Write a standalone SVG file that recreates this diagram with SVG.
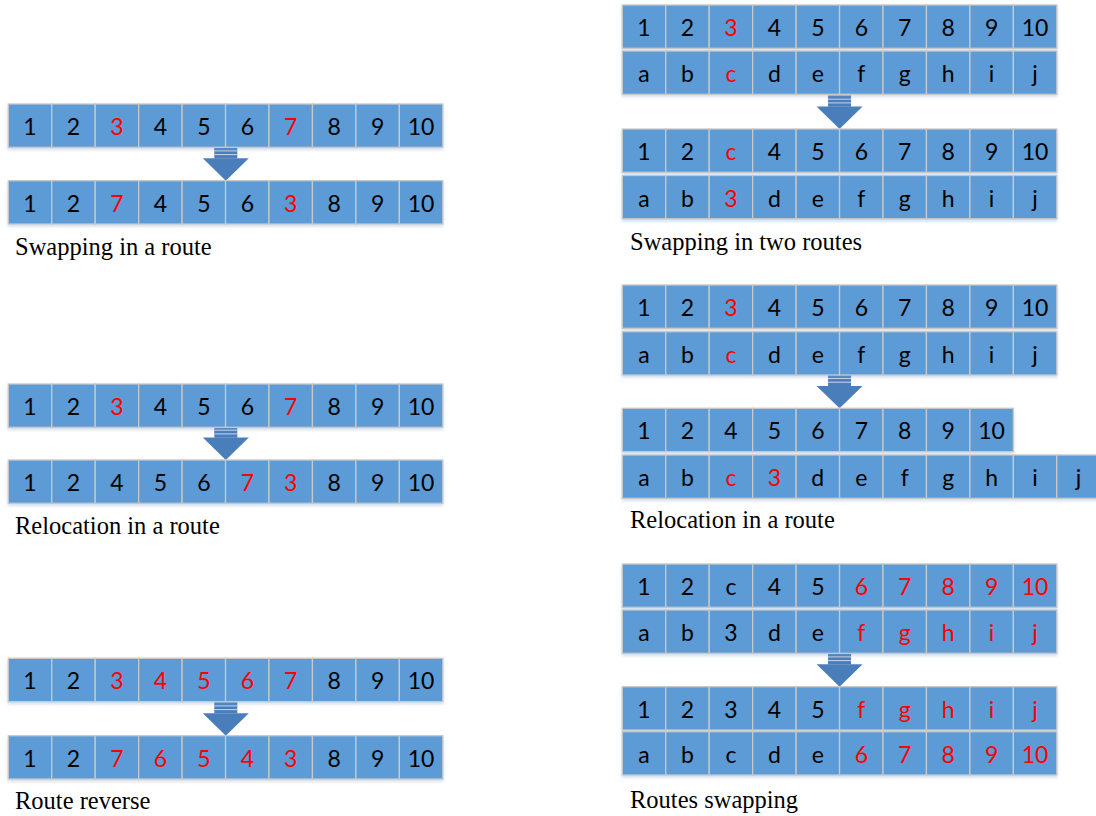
<svg xmlns="http://www.w3.org/2000/svg" xmlns:xlink="http://www.w3.org/1999/xlink" width="1096" height="816" viewBox="0 0 1096 816">
<style>
.c{fill:#5B9BD5;stroke:#C8C8C8;stroke-width:1.3}
.t text{font-family:Lato,"Open Sans","Liberation Sans",sans-serif;font-size:23px;text-anchor:middle;fill:#000}
.t text.r{fill:#FF0000}
text.lbl{font-family:"Liberation Serif","Times New Roman",serif;font-size:24.5px;fill:#000}
.ar{fill:#4A7EBB}
.st{stroke:#C9D8EC;stroke-width:1}
</style>
<defs>
<filter id="sh" x="-5%" y="-20%" width="110%" height="150%">
<feDropShadow dx="0" dy="2" stdDeviation="1.5" flood-color="#7F9FC8" flood-opacity="0.35"/>
</filter>
<g id="row9">
<rect class="c" x="0" y="0" width="43.45" height="43.3"/>
<rect class="c" x="43.45" y="0" width="43.45" height="43.3"/>
<rect class="c" x="86.9" y="0" width="43.45" height="43.3"/>
<rect class="c" x="130.35" y="0" width="43.45" height="43.3"/>
<rect class="c" x="173.8" y="0" width="43.45" height="43.3"/>
<rect class="c" x="217.25" y="0" width="43.45" height="43.3"/>
<rect class="c" x="260.7" y="0" width="43.45" height="43.3"/>
<rect class="c" x="304.15" y="0" width="43.45" height="43.3"/>
<rect class="c" x="347.6" y="0" width="43.45" height="43.3"/>
</g>
<g id="row10">
<use xlink:href="#row9"/>
<rect class="c" x="391.05" y="0" width="43.45" height="43.3"/>
</g>
<g id="row11">
<use xlink:href="#row10"/>
<rect class="c" x="434.5" y="0" width="43.45" height="43.3"/>
</g>
<g id="arrow">
<rect class="ar" x="-11.5" y="-33.5" width="23" height="11.2"/>
<line class="st" x1="-11.5" y1="-29.8" x2="11.5" y2="-29.8"/>
<line class="st" x1="-11.5" y1="-26.1" x2="11.5" y2="-26.1"/>
<path class="ar" d="M-23,-22.4 L23,-22.4 L0,0 Z"/>
</g>
</defs>

<g id="connectors">
<use xlink:href="#arrow" x="225.8" y="180.7"/>
<use xlink:href="#arrow" x="225.8" y="460"/>
<use xlink:href="#arrow" x="225.8" y="735.7"/>
<use xlink:href="#arrow" x="839.55" y="129"/>
<use xlink:href="#arrow" x="839.55" y="408.3"/>
<use xlink:href="#arrow" x="839.55" y="686.7"/>
</g>

<!-- Left section 1 -->
<g id="swap-route">
<g id="L1a" class="t" transform="translate(8.3,104)"><use xlink:href="#row10" filter="url(#sh)"/>
<text x="21.7" y="31">1</text><text x="65.2" y="31">2</text><text x="108.6" y="31" class="r">3</text><text x="152.1" y="31">4</text><text x="195.5" y="31">5</text><text x="239" y="31">6</text><text x="282.4" y="31" class="r">7</text><text x="325.9" y="31">8</text><text x="369.3" y="31">9</text><text x="412.8" y="31">10</text></g>
<g id="L1b" class="t" transform="translate(8.3,180.7)"><use xlink:href="#row10" filter="url(#sh)"/>
<text x="21.7" y="31">1</text><text x="65.2" y="31">2</text><text x="108.6" y="31" class="r">7</text><text x="152.1" y="31">4</text><text x="195.5" y="31">5</text><text x="239" y="31">6</text><text x="282.4" y="31" class="r">3</text><text x="325.9" y="31">8</text><text x="369.3" y="31">9</text><text x="412.8" y="31">10</text></g>
<text class="lbl" x="15" y="255" font-family="Liberation Serif, serif">Swapping in a route</text>
</g>

<!-- Left section 2 -->
<g id="reloc-route">
<g id="L2a" class="t" transform="translate(8.3,384)"><use xlink:href="#row10" filter="url(#sh)"/>
<text x="21.7" y="31">1</text><text x="65.2" y="31">2</text><text x="108.6" y="31" class="r">3</text><text x="152.1" y="31">4</text><text x="195.5" y="31">5</text><text x="239" y="31">6</text><text x="282.4" y="31" class="r">7</text><text x="325.9" y="31">8</text><text x="369.3" y="31">9</text><text x="412.8" y="31">10</text></g>
<g id="L2b" class="t" transform="translate(8.3,460)"><use xlink:href="#row10" filter="url(#sh)"/>
<text x="21.7" y="31">1</text><text x="65.2" y="31">2</text><text x="108.6" y="31">4</text><text x="152.1" y="31">5</text><text x="195.5" y="31">6</text><text x="239" y="31" class="r">7</text><text x="282.4" y="31" class="r">3</text><text x="325.9" y="31">8</text><text x="369.3" y="31">9</text><text x="412.8" y="31">10</text></g>
<text class="lbl" x="15" y="534" font-family="Liberation Serif, serif">Relocation in a route</text>
</g>

<!-- Left section 3 -->
<g id="reverse-route">
<g id="L3a" class="t" transform="translate(8.3,658.3)"><use xlink:href="#row10" filter="url(#sh)"/>
<text x="21.7" y="31">1</text><text x="65.2" y="31">2</text><text x="108.6" y="31" class="r">3</text><text x="152.1" y="31" class="r">4</text><text x="195.5" y="31" class="r">5</text><text x="239" y="31" class="r">6</text><text x="282.4" y="31" class="r">7</text><text x="325.9" y="31">8</text><text x="369.3" y="31">9</text><text x="412.8" y="31">10</text></g>
<g id="L3b" class="t" transform="translate(8.3,735.7)"><use xlink:href="#row10" filter="url(#sh)"/>
<text x="21.7" y="31">1</text><text x="65.2" y="31">2</text><text x="108.6" y="31" class="r">7</text><text x="152.1" y="31" class="r">6</text><text x="195.5" y="31" class="r">5</text><text x="239" y="31" class="r">4</text><text x="282.4" y="31" class="r">3</text><text x="325.9" y="31">8</text><text x="369.3" y="31">9</text><text x="412.8" y="31">10</text></g>
<text class="lbl" x="15" y="809" font-family="Liberation Serif, serif">Route reverse</text>
</g>

<!-- Right section 1 -->
<g id="swap-two-routes">
<g id="R1a" class="t" transform="translate(622.3,5)"><use xlink:href="#row10" filter="url(#sh)"/>
<text x="21.7" y="31">1</text><text x="65.2" y="31">2</text><text x="108.6" y="31" class="r">3</text><text x="152.1" y="31">4</text><text x="195.5" y="31">5</text><text x="239" y="31">6</text><text x="282.4" y="31">7</text><text x="325.9" y="31">8</text><text x="369.3" y="31">9</text><text x="412.8" y="31">10</text></g>
<g id="R1b" class="t" transform="translate(622.3,51)"><use xlink:href="#row10" filter="url(#sh)"/>
<text x="21.7" y="31">a</text><text x="65.2" y="31">b</text><text x="108.6" y="31" class="r">c</text><text x="152.1" y="31">d</text><text x="195.5" y="31">e</text><text x="239" y="31">f</text><text x="282.4" y="31">g</text><text x="325.9" y="31">h</text><text x="369.3" y="31">i</text><text x="412.8" y="31">j</text></g>
<g id="R1c" class="t" transform="translate(622.3,129)"><use xlink:href="#row10" filter="url(#sh)"/>
<text x="21.7" y="31">1</text><text x="65.2" y="31">2</text><text x="108.6" y="31" class="r">c</text><text x="152.1" y="31">4</text><text x="195.5" y="31">5</text><text x="239" y="31">6</text><text x="282.4" y="31">7</text><text x="325.9" y="31">8</text><text x="369.3" y="31">9</text><text x="412.8" y="31">10</text></g>
<g id="R1d" class="t" transform="translate(622.3,175.5)"><use xlink:href="#row10" filter="url(#sh)"/>
<text x="21.7" y="31">a</text><text x="65.2" y="31">b</text><text x="108.6" y="31" class="r">3</text><text x="152.1" y="31">d</text><text x="195.5" y="31">e</text><text x="239" y="31">f</text><text x="282.4" y="31">g</text><text x="325.9" y="31">h</text><text x="369.3" y="31">i</text><text x="412.8" y="31">j</text></g>
<text class="lbl" x="630" y="250" font-family="Liberation Serif, serif">Swapping in two routes</text>
</g>

<!-- Right section 2 -->
<g id="reloc-two-routes">
<g id="R2a" class="t" transform="translate(622.3,285)"><use xlink:href="#row10" filter="url(#sh)"/>
<text x="21.7" y="31">1</text><text x="65.2" y="31">2</text><text x="108.6" y="31" class="r">3</text><text x="152.1" y="31">4</text><text x="195.5" y="31">5</text><text x="239" y="31">6</text><text x="282.4" y="31">7</text><text x="325.9" y="31">8</text><text x="369.3" y="31">9</text><text x="412.8" y="31">10</text></g>
<g id="R2b" class="t" transform="translate(622.3,331.7)"><use xlink:href="#row10" filter="url(#sh)"/>
<text x="21.7" y="31">a</text><text x="65.2" y="31">b</text><text x="108.6" y="31" class="r">c</text><text x="152.1" y="31">d</text><text x="195.5" y="31">e</text><text x="239" y="31">f</text><text x="282.4" y="31">g</text><text x="325.9" y="31">h</text><text x="369.3" y="31">i</text><text x="412.8" y="31">j</text></g>
<g id="R2c" class="t" transform="translate(622.3,408.3)"><use xlink:href="#row9" filter="url(#sh)"/>
<text x="21.7" y="31">1</text><text x="65.2" y="31">2</text><text x="108.6" y="31">4</text><text x="152.1" y="31">5</text><text x="195.5" y="31">6</text><text x="239" y="31">7</text><text x="282.4" y="31">8</text><text x="325.9" y="31">9</text><text x="369.3" y="31">10</text></g>
<g id="R2d" class="t" transform="translate(622.3,455)"><use xlink:href="#row11" filter="url(#sh)"/>
<text x="21.7" y="31">a</text><text x="65.2" y="31">b</text><text x="108.6" y="31" class="r">c</text><text x="152.1" y="31" class="r">3</text><text x="195.5" y="31">d</text><text x="239" y="31">e</text><text x="282.4" y="31">f</text><text x="325.9" y="31">g</text><text x="369.3" y="31">h</text><text x="412.8" y="31">i</text><text x="456.2" y="31">j</text></g>
<text class="lbl" x="630" y="528" font-family="Liberation Serif, serif">Relocation in a route</text>
</g>

<!-- Right section 3 -->
<g id="routes-swapping">
<g id="R3a" class="t" transform="translate(622.3,564)"><use xlink:href="#row10" filter="url(#sh)"/>
<text x="21.7" y="31">1</text><text x="65.2" y="31">2</text><text x="108.6" y="31">c</text><text x="152.1" y="31">4</text><text x="195.5" y="31">5</text><text x="239" y="31" class="r">6</text><text x="282.4" y="31" class="r">7</text><text x="325.9" y="31" class="r">8</text><text x="369.3" y="31" class="r">9</text><text x="412.8" y="31" class="r">10</text></g>
<g id="R3b" class="t" transform="translate(622.3,610)"><use xlink:href="#row10" filter="url(#sh)"/>
<text x="21.7" y="31">a</text><text x="65.2" y="31">b</text><text x="108.6" y="31">3</text><text x="152.1" y="31">d</text><text x="195.5" y="31">e</text><text x="239" y="31" class="r">f</text><text x="282.4" y="31" class="r">g</text><text x="325.9" y="31" class="r">h</text><text x="369.3" y="31" class="r">i</text><text x="412.8" y="31" class="r">j</text></g>
<g id="R3c" class="t" transform="translate(622.3,686.7)"><use xlink:href="#row10" filter="url(#sh)"/>
<text x="21.7" y="31">1</text><text x="65.2" y="31">2</text><text x="108.6" y="31">3</text><text x="152.1" y="31">4</text><text x="195.5" y="31">5</text><text x="239" y="31" class="r">f</text><text x="282.4" y="31" class="r">g</text><text x="325.9" y="31" class="r">h</text><text x="369.3" y="31" class="r">i</text><text x="412.8" y="31" class="r">j</text></g>
<g id="R3d" class="t" transform="translate(622.3,731.7)"><use xlink:href="#row10" filter="url(#sh)"/>
<text x="21.7" y="31">a</text><text x="65.2" y="31">b</text><text x="108.6" y="31">c</text><text x="152.1" y="31">d</text><text x="195.5" y="31">e</text><text x="239" y="31" class="r">6</text><text x="282.4" y="31" class="r">7</text><text x="325.9" y="31" class="r">8</text><text x="369.3" y="31" class="r">9</text><text x="412.8" y="31" class="r">10</text></g>
<text class="lbl" x="630" y="808" font-family="Liberation Serif, serif">Routes swapping</text>
</g>
</svg>
